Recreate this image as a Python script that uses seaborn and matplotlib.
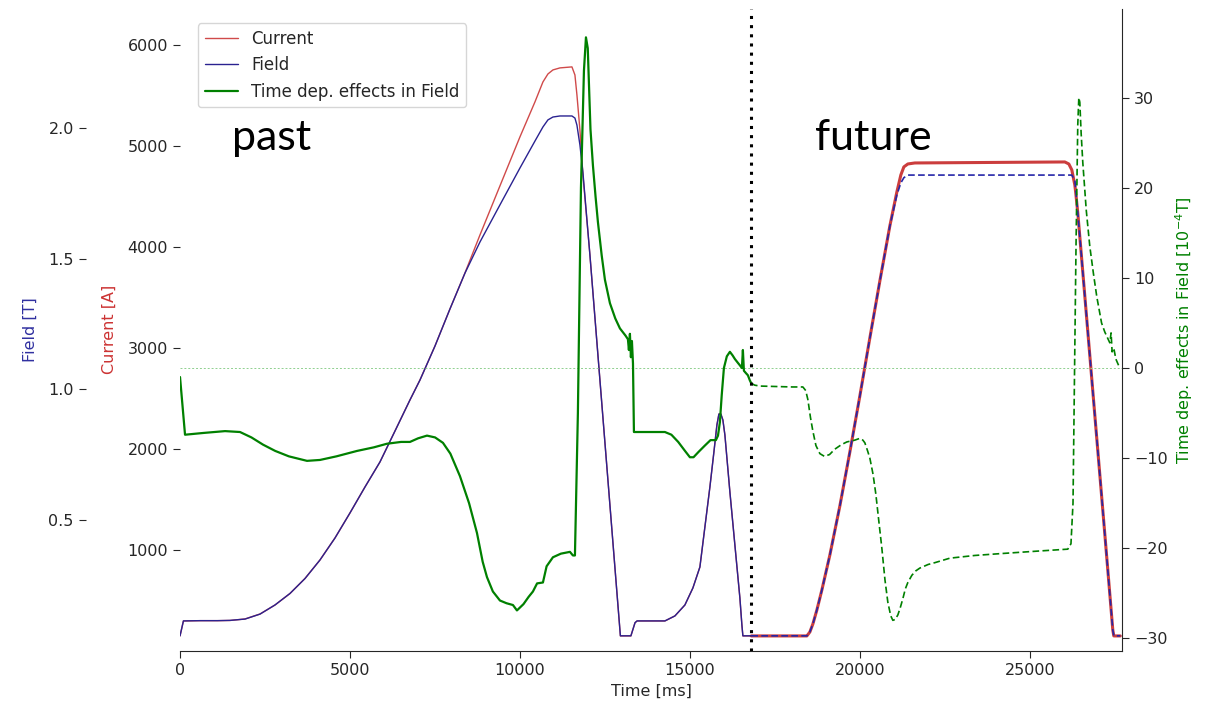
import pandas as pd
import seaborn as sns
import matplotlib.pyplot as plt

# ---- data (time in ms) ----
# measured part ("past"): current in A, field in T
t_past = [0, 100, 600, 1100, 1470, 1911, 2352, 2793, 3234, 3675, 4116, 4557, 4998, 5439,
          5880, 6321, 6762, 7056, 7497, 7938, 8379, 8820, 9408, 9996, 10437, 10672, 10819,
          10966, 11172, 11525, 11613, 11672, 11760, 11848, 12054, 12348, 12642, 12877,
          12950, 13259, 13380, 13440, 14259, 14553, 14847, 15082, 15288, 15435, 15582,
          15700, 15788, 15847, 15905, 15964, 16023, 16170, 16317, 16464, 16523, 16552, 16800]
current_past = [149, 297, 300, 300, 302, 317, 366, 455, 569, 718, 901, 1119, 1366, 1624,
                1871, 2178, 2485, 2683, 3019, 3386, 3742, 4118, 4604, 5089, 5435, 5633, 5712,
                5752, 5772, 5782, 5702, 5504, 5158, 4712, 3920, 2683, 1445, 455,
                149, 149, 280, 297, 297, 347, 455, 624, 832, 1228, 1624,
                1970, 2237, 2346, 2346, 2287, 2139, 1574, 1049, 525, 257, 149, 149]
field_past = [0.058, 0.115, 0.116, 0.116, 0.117, 0.122, 0.141, 0.176, 0.220, 0.277, 0.348,
              0.432, 0.528, 0.627, 0.723, 0.841, 0.960, 1.036, 1.166, 1.308, 1.445, 1.564,
              1.706, 1.847, 1.950, 2.004, 2.031, 2.042, 2.046, 2.046, 2.038, 2.011, 1.935,
              1.830, 1.514, 1.036, 0.558, 0.176, 0.058, 0.058, 0.108, 0.115, 0.115, 0.134,
              0.176, 0.241, 0.321, 0.474, 0.627, 0.761, 0.864, 0.906, 0.906, 0.883, 0.826,
              0.608, 0.405, 0.203, 0.099, 0.058, 0.058]

# predicted part ("future")
t_future = [16800, 18434, 18522, 18610, 18728, 18875, 19110, 19404, 19698, 19992, 20286,
            20580, 20874, 21080, 21197, 21286, 21403, 21609, 26019, 26137, 26225, 26313,
            26342, 26401, 26607, 26901, 27195, 27430, 27460, 27650]
current_future = [149, 149, 188, 267, 406, 604, 950, 1436, 1970, 2525, 3099,
                  3663, 4208, 4544, 4712, 4792, 4821, 4831, 4841, 4821, 4762, 4613,
                  4530, 4336, 3515, 2336, 1158, 208, 149, 149]
field_future = [0.058, 0.058, 0.073, 0.103, 0.157, 0.233, 0.367, 0.555, 0.761, 0.975, 1.197,
                1.415, 1.625, 1.744, 1.790, 1.810, 1.820, 1.820, 1.820, 1.820, 1.820, 1.800,
                1.763, 1.675, 1.358, 0.902, 0.447, 0.080, 0.058, 0.058]

# time dependent effects in field, 1e-4 T
t_eff_past = [0, 147, 700, 1323, 1764, 2100, 2440, 2800, 3200, 3734, 4116, 4600, 5204, 5700,
              6086, 6500, 6762, 7000, 7262, 7500, 7732, 7950, 8232, 8500, 8732, 8900, 9026,
              9200, 9408, 9600, 9790, 9908, 10100, 10250, 10378, 10500, 10672, 10780, 10966,
              11200, 11466, 11554, 11613, 11700, 11790, 11878, 11937, 11990, 12030, 12070,
              12142, 12220, 12289, 12400, 12495, 12642, 12800, 12936, 13100, 13171, 13200,
              13230, 13259, 13289, 13320, 13348, 14259, 14450, 14650, 14850, 14994, 15100,
              15250, 15435, 15600, 15758, 15820, 15876, 15930, 15994, 16080, 16170, 16250,
              16317, 16400, 16464, 16523, 16552, 16582, 16650, 16699, 16760, 16800]
eff_past = [-1.0, -7.4, -7.2, -7.0, -7.1, -7.7, -8.5, -9.2, -9.8, -10.3, -10.2, -9.8, -9.2,
            -8.8, -8.4, -8.2, -8.2, -7.8, -7.5, -7.7, -8.3, -9.5, -12.0, -15.0, -18.3, -21.5,
            -23.2, -24.8, -25.8, -26.1, -26.3, -26.9, -26.2, -25.4, -24.8, -23.9, -23.8,
            -22.0, -21.0, -20.6, -20.4, -20.8, -20.8, -5.0, 20.0, 33.0, 36.7, 35.5, 31.0,
            26.5, 22.5, 19.0, 16.2, 12.5, 9.8, 7.2, 5.5, 4.4, 3.6, 3.2, 2.0,
            3.8, 1.2, 3.0, 0.5, -7.1, -7.1, -7.4, -8.2, -9.2, -9.9, -9.9,
            -9.3, -8.6, -8.0, -8.0, -7.5, -6.0, -3.0, 0.0, 1.3, 1.8, 1.4,
            1.0, 0.6, 0.3, 0.0, 2.0, -0.3, -0.6, -0.8, -1.4, -1.7]
t_eff_future = [16800, 16900, 17052, 18000, 18316, 18400, 18463, 18540, 18610, 18700, 18816,
                18950, 19100, 19257, 19450, 19610, 19845, 19992, 20080, 20139, 20220, 20286,
                20380, 20462, 20550, 20639, 20730, 20815, 20900, 20962, 21030, 21109, 21180,
                21256, 21330, 21403, 21521, 21640, 21756, 22000, 22197, 22638, 23373, 24108,
                25284, 26107, 26200, 26260, 26300, 26350, 26400, 26431, 26460, 26500, 26548,
                26650, 26754, 26860, 26960, 27100, 27195, 27342, 27380, 27410, 27460, 27520,
                27600, 27650]
eff_future = [-1.7, -1.9, -2.0, -2.1, -2.1, -2.5, -3.5, -5.5, -7.0, -8.6, -9.5,
              -9.8, -9.6, -9.0, -8.5, -8.2, -8.0, -7.8, -8.0, -8.3, -9.2, -10.0,
              -11.8, -14.0, -17.0, -20.0, -23.5, -26.0, -27.5, -28.0, -27.9, -27.4, -26.6,
              -25.6, -24.5, -23.8, -23.0, -22.5, -22.2, -21.8, -21.6, -21.1, -20.8, -20.6,
              -20.3, -20.1, -19.5, -15.0, -2.0, 14.0, 27.0, 30.0, 29.5, 26.0, 22.8,
              17.5, 13.5, 10.5, 7.9, 5.0, 4.0, 2.8, 3.9, 1.8, 2.2, 1.0,
              0.3, 0.0]

t_now = 16800

past = pd.DataFrame({'t': t_past, 'current': current_past, 'field': field_past})
future = pd.DataFrame({'t': t_future, 'current': current_future, 'field': field_future})
eff_p = pd.DataFrame({'t': t_eff_past, 'eff': eff_past})
eff_f = pd.DataFrame({'t': t_eff_future, 'eff': eff_future})

sns.set_style('ticks')
plt.rcParams['font.family'] = ['DejaVu Sans']
plt.rcParams['font.size'] = 11.5

fig = plt.figure(figsize=(12.05, 7.03), dpi=100)
ax = fig.add_axes([0.1494, 0.074, 0.7817, 0.9139])
ax_f = ax.twinx()
ax_g = ax.twinx()

# current
sns.lineplot(data=past, x='t', y='current', ax=ax, color='#d04a4a', lw=1, estimator=None)
h_cur = ax.lines[-1]
sns.lineplot(data=future, x='t', y='current', ax=ax, color='#c62828', lw=2.2, alpha=0.9,
             estimator=None)

# field
sns.lineplot(data=past, x='t', y='field', ax=ax_f, color='#2a2290', lw=1, estimator=None)
h_field = ax_f.lines[-1]
sns.lineplot(data=future, x='t', y='field', ax=ax_f, color='#2626a8', lw=1.2,
             linestyle=(0, (4, 2)), estimator=None)

# time dependent effects
ax_g.axhline(0, color='#8fd08f', lw=0.7, linestyle=(0, (2, 2)))
sns.lineplot(data=eff_p, x='t', y='eff', ax=ax_g, color='green', lw=1.6, estimator=None)
h_eff = ax_g.lines[-1]
sns.lineplot(data=eff_f, x='t', y='eff', ax=ax_g, color='green', lw=1.2,
             linestyle=(0, (4, 2)), estimator=None)
ax_g.axvline(t_now, color='black', lw=2.2, linestyle=(0, (1, 2)))

ax.set_xlim(0, 27700)
ax.set_ylim(0, 6360)
ax_f.set_ylim(0, 2.457)
ax_g.set_ylim(-31.4, 39.9)

ax.set_yticks([1000, 2000, 3000, 4000, 5000, 6000])
ax_f.set_yticks([0.5, 1.0, 1.5, 2.0])
ax_f.set_yticklabels(['0.5', '1.0', '1.5', '2.0'])

# axis placement
ax_f.yaxis.tick_left()
ax_f.yaxis.set_label_position('left')
ax_f.spines['left'].set_position(('outward', 68))
for s in ax_f.spines.values():
    s.set_visible(False)
for s in ['top', 'left', 'right']:
    ax.spines[s].set_visible(False)
for s in ['top', 'left', 'bottom']:
    ax_g.spines[s].set_visible(False)
for a in [ax, ax_f, ax_g]:
    a.tick_params(length=5)

ax.set_xlabel('Time [ms]')
ax.set_ylabel('Current [A]', color='#cc3333', labelpad=8)
ax_f.set_ylabel('Field [T]', color='#3030a0', labelpad=7.5)
ax_g.set_ylabel('Time dep. effects in Field [$10^{-4}$T]', color='green')

ax_g.legend(handles=[h_cur, h_field, h_eff],
            labels=['Current', 'Field', 'Time dep. effects in Field'],
            loc='upper left', bbox_to_anchor=(0.019, 0.977), borderaxespad=0,
            fontsize=12)

fig.text(232 / 1205, 1 - 150 / 703, 'past', fontsize=31, family='Lato', color='black',
         va='baseline', ha='left')
fig.text(815 / 1205, 1 - 150 / 703, 'future', fontsize=31, family='Lato', color='black',
         va='baseline', ha='left')

fig.savefig('out.png', dpi=100)
